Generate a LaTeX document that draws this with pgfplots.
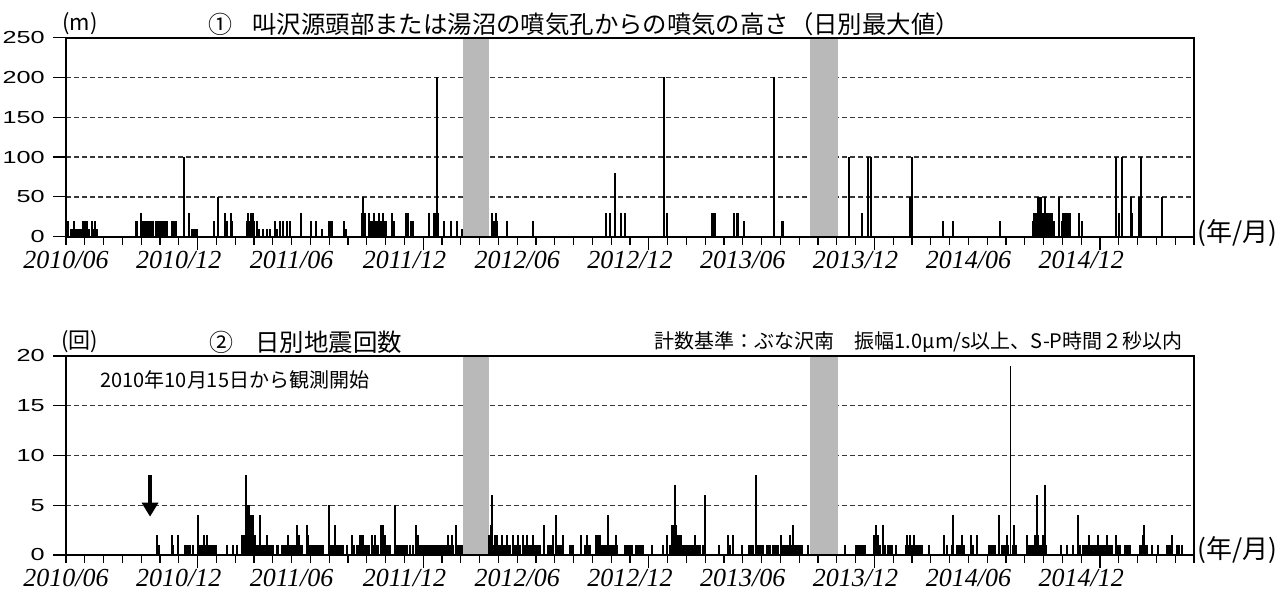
\documentclass[border=0pt]{standalone}
\usepackage{fontspec}
\setmainfont{Liberation Sans}
\newfontfamily\jp{Noto Sans CJK JP}
\newfontfamily\ylab[FakeStretch=1.45]{Liberation Sans}
\newfontfamily\xlab{Liberation Serif}
\usepackage{pgfplots}
\pgfplotsset{compat=1.18}
\usetikzlibrary{arrows.meta}

\pgfplotsset{
  panel/.style={
    scale only axis, width=564pt, height=99.5pt, anchor=south west,
    xmin=0, xmax=60,
    axis line style={line width=1pt},
    tick align=outside,
    xtick pos=left, ytick pos=left,
    tick style={line width=0.6pt, black},
    major tick length=6.5pt, minor tick length=4pt,
    xtick={7,19,31,43,55},
    xticklabels={,,,,},
    minor xtick={0,...,60},
    extra x ticks={0,6,...,54},
    extra x tick labels={2010/06,2010/12,2011/06,2011/12,2012/06,2012/12,2013/06,2013/12,2014/06,2014/12},
    extra x tick style={major tick length=4pt},
    xticklabel style={font=\xlab\itshape\fontsize{13}{14}\selectfont, inner sep=0pt, yshift=-3pt},
    yticklabel style={font=\ylab\fontsize{8.7}{10}\selectfont, inner sep=0pt, xshift=-4pt},
    ymajorgrids,
    grid style={dash pattern=on 2.5pt off 1.5pt, line width=0.7pt, black!78},
  },
  bars/.style={ycomb, mark=none, black, line width=0.95pt},
  band/.style={fill=gray!55, draw=none},
}

\begin{document}
\begin{tikzpicture}
\useasboundingbox (0,0) rectangle (643pt,-298.5pt);

% ---------------- Panel 1 ----------------
\begin{axis}[panel, at={(33pt,-118.35pt)},
  ymin=0, ymax=250, ytick={0,50,...,250},
  yticklabels={0,50,100,150,200,250}]
\addplot[band] coordinates {(21.13,1.3) (21.13,248.7) (22.5,248.7) (22.5,1.3)} --cycle;
\addplot[band] coordinates {(39.57,1.3) (39.57,248.7) (41.08,248.7) (41.08,1.3)} --cycle;
\addplot[bars] table {
x y
0.04 20
0.12 20
0.25 10
0.36 10
0.43 20
0.50 10
0.60 10
0.71 10
0.81 10
0.92 20
1.03 20
1.13 20
1.24 10
1.37 20
1.45 10
1.54 20
1.63 10
3.72 20
3.80 20
3.99 30
4.07 20
4.14 20
4.22 20
4.30 20
4.38 20
4.46 20
4.54 20
4.62 20
4.77 20
4.85 20
4.93 20
5.01 20
5.09 20
5.18 20
5.26 20
5.35 20
5.62 20
5.70 20
5.78 20
5.85 20
6.28 100
6.56 30
6.72 10
6.80 10
6.86 10
6.97 10
7.87 20
8.09 50
8.46 30
8.55 20
8.76 30
8.83 20
9.61 20
9.66 30
9.72 20
9.79 20
9.86 30
9.93 30
10.02 20
10.18 20
10.28 10
10.50 10
10.67 10
10.85 10
11.13 20
11.24 10
11.38 20
11.52 20
11.74 20
11.91 20
12.50 30
13.01 20
13.30 20
13.63 10
14.00 20
14.07 20
14.13 20
14.80 20
14.87 10
15.73 30
15.81 50
15.90 30
16.13 30
16.20 20
16.26 20
16.38 30
16.45 20
16.52 20
16.58 20
16.65 30
16.72 20
16.79 20
16.88 30
16.95 20
17.02 20
17.32 30
17.46 20
18.07 30
18.21 30
18.33 20
18.44 20
19.31 30
19.57 30
19.63 30
19.72 200
19.80 30
20.11 20
20.46 20
20.78 20
21.05 10
22.64 30
22.73 20
22.80 20
22.85 30
22.94 20
23.44 20
24.86 20
28.71 30
28.94 30
29.20 80
29.52 30
29.75 30
31.83 200
31.98 30
34.38 30
34.45 30
34.52 30
35.53 30
35.67 30
35.76 30
36.06 20
37.68 200
38.07 20
38.16 20
41.64 100
42.32 30
42.64 100
42.80 100
44.89 50
44.95 50
45.00 100
46.63 20
47.20 20
49.68 20
51.42 20
51.50 30
51.60 30
51.68 50
51.74 50
51.80 50
51.84 50
51.92 30
51.98 30
52.07 50
52.13 30
52.20 30
52.30 30
52.36 30
52.43 30
52.55 20
52.80 50
52.96 20
53.05 30
53.12 30
53.17 30
53.22 30
53.28 30
53.34 30
53.40 30
53.90 30
54.03 20
55.85 100
56.03 30
56.15 100
56.63 50
56.72 30
57.09 50
57.18 100
58.28 50
};
\end{axis}

% ---------------- Panel 2 ----------------
\begin{axis}[panel, at={(33pt,-277.5pt)},
  ymin=0, ymax=20, ytick={0,5,...,20},
  yticklabels={0,5,10,15,20}]
\addplot[band] coordinates {(21.13,0.1) (21.13,19.9) (22.5,19.9) (22.5,0.1)} --cycle;
\addplot[band] coordinates {(39.57,0.1) (39.57,19.9) (41.08,19.9) (41.08,0.1)} --cycle;
\addplot[bars] table {
x y
4.86 2
4.96 1
5.62 2
5.71 1
5.97 2
6.33 1
6.40 1
6.47 1
6.55 1
6.62 1
6.74 1
7.04 4
7.13 1
7.22 1
7.34 2
7.43 1
7.52 2
7.60 1
7.66 1
7.75 1
7.85 1
7.98 1
8.55 1
8.90 1
9.11 1
9.36 2
9.44 2
9.50 2
9.56 8
9.63 2
9.70 5
9.75 5
9.82 4
9.88 4
9.96 4
10.05 2
10.14 1
10.22 1
10.32 4
10.40 1
10.48 1
10.56 1
10.64 1
10.71 2
10.78 1
10.86 1
10.94 1
11.03 1
11.21 1
11.28 1
11.47 1
11.55 1
11.63 1
11.72 1
11.82 2
11.90 1
11.98 1
12.06 1
12.18 1
12.27 3
12.37 2
12.45 1
12.55 1
12.82 3
12.90 2
12.98 1
13.06 1
13.15 1
13.25 1
13.35 1
13.45 1
13.55 1
13.69 1
14.00 5
14.10 1
14.18 1
14.31 3
14.38 1
14.46 1
14.55 1
14.65 1
14.75 1
14.93 1
15.20 2
15.30 1
15.46 1
15.54 1
15.64 2
15.72 2
15.80 2
15.90 1
15.98 1
16.06 1
16.14 1
16.26 2
16.34 1
16.44 2
16.52 1
16.60 1
16.74 3
16.84 3
16.92 1
16.97 2
17.05 1
17.14 1
17.23 1
17.50 5
17.58 1
17.66 1
17.74 1
17.82 1
17.92 1
18.02 1
18.12 1
18.30 1
18.48 1
18.62 3
18.70 2
18.78 1
18.86 1
18.94 1
19.02 1
19.10 1
19.18 1
19.26 1
19.36 1
19.44 1
19.52 1
19.60 1
19.70 1
19.80 1
19.89 1
19.98 1
20.06 1
20.16 1
20.25 1
20.34 2
20.43 1
20.52 2
20.60 1
20.74 3
20.82 1
20.90 1
20.98 1
21.05 1
22.52 2
22.60 3
22.68 6
22.75 1
22.83 2
22.91 2
23.00 1
23.08 1
23.17 2
23.25 1
23.35 1
23.44 2
23.52 1
23.62 1
23.79 2
23.88 1
23.97 1
24.06 2
24.15 1
24.33 2
24.42 1
24.50 2
24.58 1
24.66 1
24.75 1
24.86 2
24.95 1
25.04 1
25.12 1
25.21 1
25.43 3
25.66 1
25.75 1
25.85 1
25.92 2
26.05 4
26.15 1
26.25 1
26.35 1
26.45 2
26.81 1
26.90 1
26.98 1
27.39 2
27.61 1
27.67 1
27.73 2
27.80 1
27.87 1
28.17 2
28.25 1
28.31 2
28.40 2
28.48 1
28.56 1
28.65 1
28.76 1
28.85 4
28.95 1
29.05 1
29.15 1
29.24 2
29.29 1
29.73 1
29.82 1
29.91 1
30.00 1
30.09 1
30.30 1
30.40 1
30.50 1
30.60 1
30.67 1
31.15 1
31.77 1
31.98 2
32.15 1
32.22 3
32.30 3
32.39 7
32.45 3
32.53 2
32.62 2
32.70 2
32.78 1
32.88 1
32.98 1
33.08 1
33.18 1
33.28 1
33.38 1
33.46 2
33.55 1
33.65 1
33.75 1
33.87 1
34.01 6
34.73 1
35.23 2
35.32 1
35.50 2
35.94 1
36.35 1
36.45 1
36.56 1
36.68 8
36.75 1
36.83 1
36.92 1
37.00 1
37.09 1
37.27 1
37.36 1
37.45 1
37.62 1
37.70 1
37.80 1
37.89 1
38.01 2
38.08 1
38.15 1
38.25 1
38.33 1
38.42 1
38.51 2
38.60 1
38.69 3
38.78 1
38.87 1
38.95 1
39.04 1
39.13 1
39.49 1
41.44 1
42.02 1
42.10 1
42.18 1
42.26 1
42.34 1
42.42 1
42.50 1
42.98 2
43.05 2
43.09 3
43.15 2
43.21 2
43.30 1
43.47 3
43.56 1
43.74 1
43.82 1
43.92 1
44.15 1
44.68 1
44.75 2
44.82 1
44.89 2
44.96 1
45.04 1
45.11 2
45.18 1
45.26 1
45.35 1
45.43 1
45.51 1
45.90 1
46.72 2
46.84 1
47.11 1
47.20 4
47.41 1
47.50 1
47.57 1
47.64 2
47.72 1
47.77 1
48.12 2
48.26 1
48.44 2
49.11 1
49.20 1
49.30 1
49.41 1
49.64 4
49.77 1
49.86 1
49.95 1
50.04 2
50.12 1
50.24 19
50.35 1
50.43 3
50.53 1
51.10 2
51.20 1
51.28 1
51.37 1
51.45 1
51.55 2
51.63 6
51.72 2
51.78 1
51.84 1
51.95 2
52.07 7
52.13 1
52.93 1
53.23 1
53.55 1
53.85 4
53.95 1
54.08 1
54.18 1
54.29 1
54.43 2
54.50 1
54.56 1
54.65 1
54.74 1
54.82 1
54.91 2
55.00 1
55.09 1
55.18 1
55.27 1
55.36 2
55.44 1
55.53 1
55.62 1
55.85 2
55.93 1
56.00 1
56.06 1
56.33 1
56.42 1
56.52 1
56.60 1
57.13 1
57.22 1
57.30 2
57.36 3
57.42 1
57.48 1
57.75 1
58.10 1
58.55 1
58.63 1
58.72 1
58.81 1
58.85 2
59.08 1
59.20 1
59.34 1
};
\draw[line width=1.6pt, -{Triangle[width=8pt,length=7pt]}] (axis cs:4.47,8) -- (axis cs:4.47,3.85);
\end{axis}

% ---------------- Texts ----------------
\node[font=\jp\fontsize{11}{12}\selectfont] at (40pt,-12pt) {(m)};
\node[anchor=west, font=\jp\fontsize{12}{14}\selectfont] at (100.5pt,-12pt) {①};
\node[anchor=west, font=\jp\fontsize{12.2}{14}\selectfont, inner sep=0pt] at (126pt,-12pt) {叫沢源頭部または湯沼の噴気孔からの噴気の高さ（日別最大値）};
\node[anchor=west, font=\jp\fontsize{13}{14}\selectfont, inner sep=0pt] at (598.5pt,-116.5pt) {(年/月)};

\node[font=\jp\fontsize{11}{12}\selectfont] at (40pt,-171pt) {(回)};
\node[anchor=west, font=\jp\fontsize{12}{14}\selectfont] at (101pt,-171pt) {②};
\node[anchor=west, font=\jp\fontsize{12.2}{14}\selectfont, inner sep=0pt] at (127.5pt,-171pt) {日別地震回数};
\node[anchor=east, font=\jp\fontsize{10}{12}\selectfont, inner sep=0pt] at (591.5pt,-171pt) {計数基準：ぶな沢南　振幅1.0μm/s以上、S-P時間２秒以内};
\node[anchor=west, font=\jp\fontsize{10}{12}\selectfont, inner sep=0pt] at (50pt,-190pt) {2010年10月15日から観測開始};
\node[anchor=west, font=\jp\fontsize{13}{14}\selectfont, inner sep=0pt] at (598.5pt,-275pt) {(年/月)};
\end{tikzpicture}
\end{document}
